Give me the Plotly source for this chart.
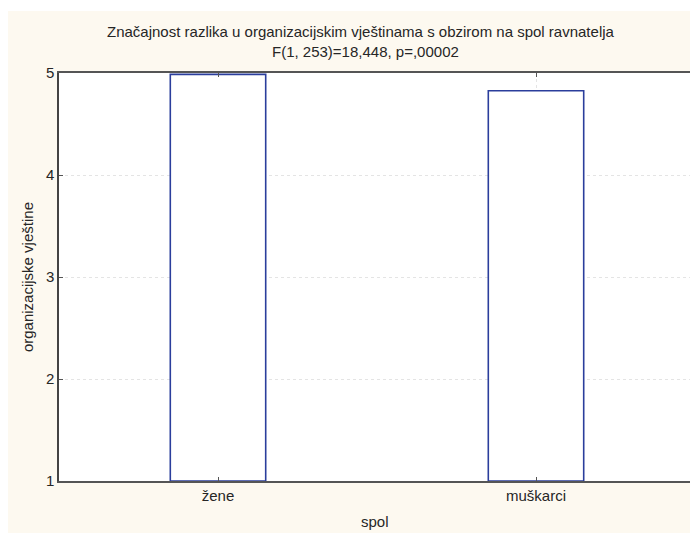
import plotly.graph_objects as go

categories = ["žene", "muškarci"]
means = [4.987, 4.826]
y_ticks = [1, 2, 3, 4, 5]

title_line1 = "Značajnost razlika u organizacijskim vještinama s obzirom na spol ravnatelja"
title_line2 = "F(1, 253)=18,448, p=,00002"
x_title = "spol"
y_title = "organizacijske vještine"

BASE = 1
# page body has an 8px margin, so the figure is sized to fit the 698x533 window
W, H = 690, 525
ML, MR, MT, MB = 51, 1, 65, 52
PW, PH = W - ML - MR, H - MT - MB
FONT = "Liberation Sans, Arial, sans-serif"
TXT = "#262626"


def px(x):
    return (x - ML) / PW


def py(y):
    return (H - MB - y) / PH


fig = go.Figure()
fig.add_trace(go.Bar(
    x=categories,
    y=[m - BASE for m in means],
    base=BASE,
    width=0.3,
    marker=dict(color="white", line=dict(color="#2b3e9c", width=1.6)),
    showlegend=False,
    hoverinfo="skip",
))

# thin white strip at the very top (outside the plot area)
fig.add_shape(type="rect", xref="paper", yref="paper", layer="below",
              x0=px(-2), x1=px(W + 2), y0=py(3), y1=py(-2),
              fillcolor="white", line=dict(width=0))

fig.update_layout(
    width=W, height=H,
    margin=dict(l=ML, r=MR, t=MT, b=MB),
    paper_bgcolor="#fdf9f0",
    plot_bgcolor="white",
    font=dict(family=FONT, size=15, color=TXT),
)

fig.update_xaxes(
    range=[-0.5, 1.5],
    showline=True, linecolor="#555", linewidth=1.5, mirror="ticks",
    ticks="inside", ticklen=4, tickcolor="#555",
    showgrid=True, gridcolor="#e4e4e4", griddash="dot", gridwidth=1,
    tickfont=dict(size=15, color=TXT),
    zeroline=False,
)
fig.update_yaxes(
    range=[1, 5],
    tickvals=y_ticks,
    showline=True, linecolor="#444", linewidth=1.5, mirror="ticks",
    ticks="inside", ticklen=4, tickcolor="#555",
    showgrid=True, gridcolor="#e4e4e4", griddash="dot", gridwidth=1,
    tickfont=dict(size=15, color=TXT),
    zeroline=False,
)

fig.add_annotation(text=title_line1, xref="paper", yref="paper",
                   x=px(354), y=py(24), showarrow=False,
                   font=dict(size=15, color=TXT), xanchor="center", yanchor="middle")
fig.add_annotation(text=title_line2, xref="paper", yref="paper",
                   x=px(358), y=py(44), showarrow=False,
                   font=dict(size=15, color=TXT), xanchor="center", yanchor="middle")
fig.add_annotation(text=x_title, xref="paper", yref="paper",
                   x=px(368), y=py(513), showarrow=False,
                   font=dict(size=15, color=TXT), xanchor="center", yanchor="middle")
fig.add_annotation(text=y_title, xref="paper", yref="paper",
                   x=px(19), y=py(269), showarrow=False, textangle=-90,
                   font=dict(size=15, color=TXT), xanchor="center", yanchor="middle")

fig.write_html("out.html")
